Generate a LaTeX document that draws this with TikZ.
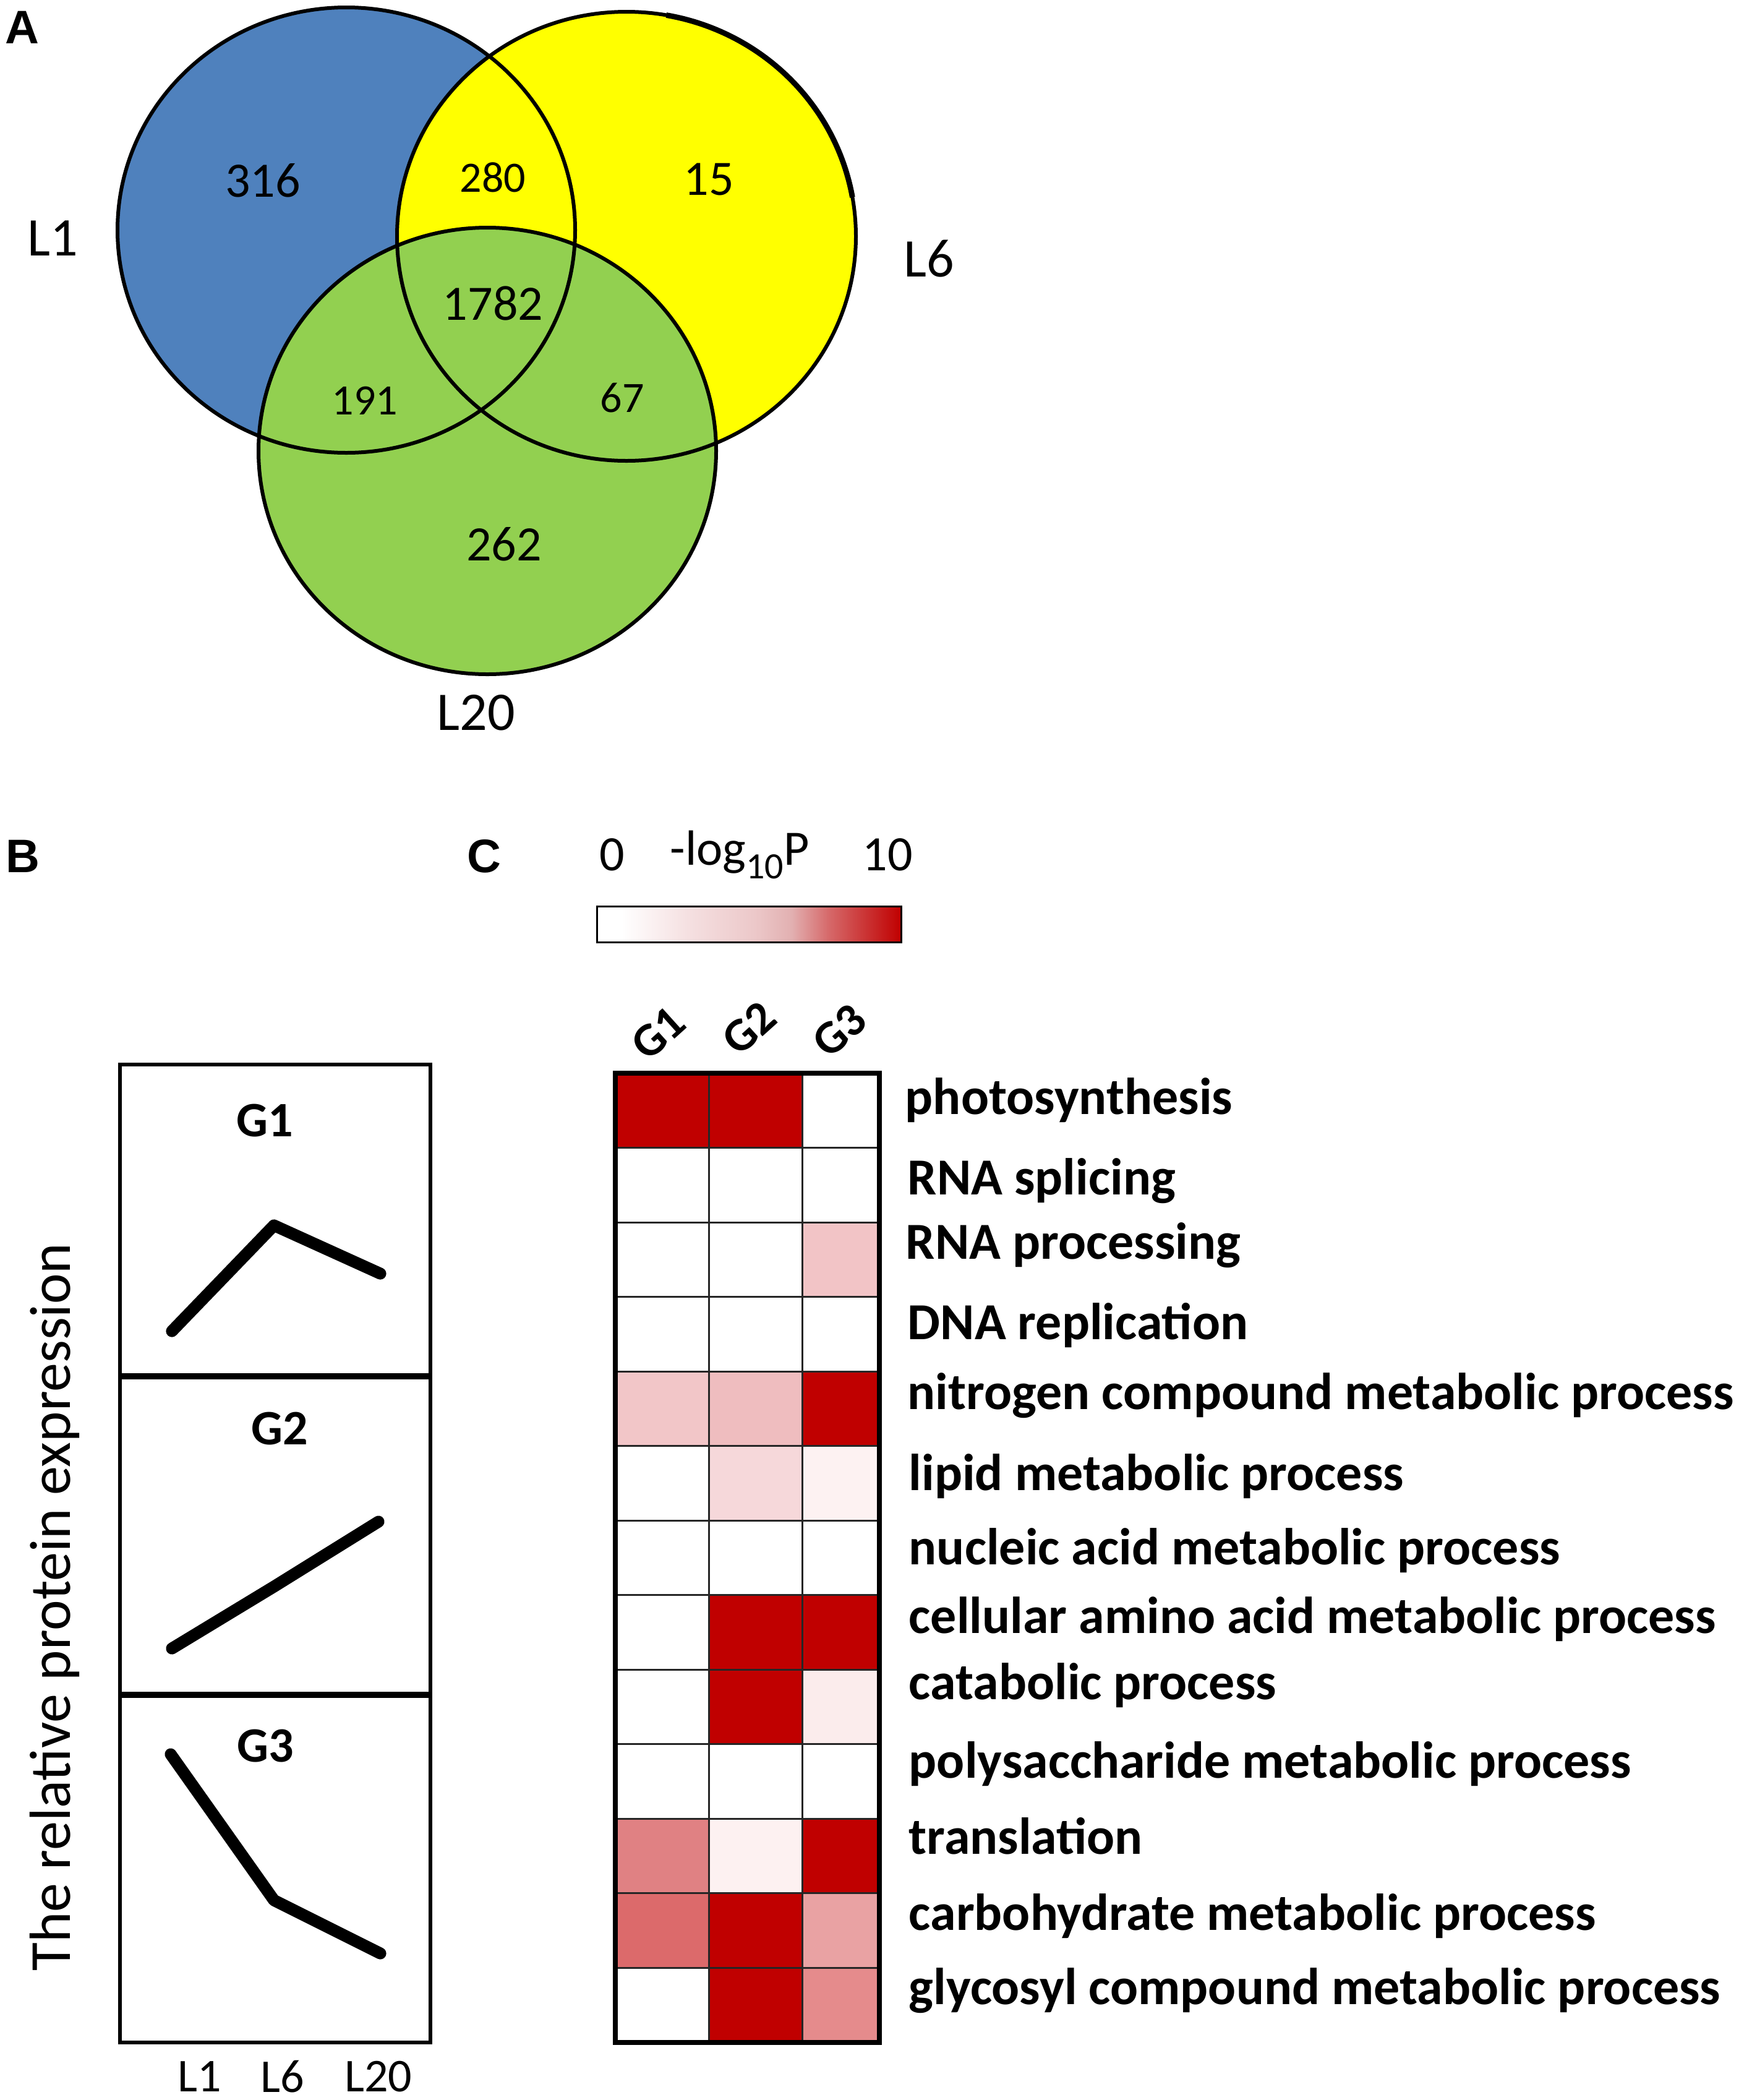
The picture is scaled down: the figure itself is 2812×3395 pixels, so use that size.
\documentclass[tikz,border=0pt]{standalone}
\usepackage{fontspec}
\setmainfont{Carlito}
\newfontfamily\panelfont{Liberation Sans}
\definecolor{vblue}{HTML}{4F81BD}
\definecolor{vyellow}{HTML}{FFFF00}
\definecolor{vgreen}{HTML}{92D050}
\definecolor{hr}{HTML}{C00000}
\definecolor{ca}{HTML}{F2C4C6}
\definecolor{na}{HTML}{F2C6C8}
\definecolor{nb}{HTML}{EFBDBF}
\definecolor{lb}{HTML}{F6D8DA}
\definecolor{lc}{HTML}{FDF2F2}
\definecolor{kc}{HTML}{FBECEC}
\definecolor{ta}{HTML}{E08183}
\definecolor{tb}{HTML}{FDF1F1}
\definecolor{ba}{HTML}{DC6A6B}
\definecolor{bc}{HTML}{E9A2A3}
\definecolor{gc}{HTML}{E58B8C}
\definecolor{sa}{HTML}{F5E0E1}
\definecolor{sb}{HTML}{ECC8C9}
\definecolor{sc}{HTML}{E2B0B1}
\definecolor{sd}{HTML}{D66A6B}
\pgfdeclarehorizontalshading{cbar}{100bp}{color(0bp)=(white); color(25bp)=(white); color(29bp)=(white); color(40bp)=(sa); color(51bp)=(sb); color(57bp)=(sc); color(63bp)=(sd); color(75bp)=(hr); color(100bp)=(hr)}
\tikzset{
  panel/.style={font=\panelfont\bfseries\fontsize{19}{22}\selectfont, inner sep=0pt},
  bignum/.style={font=\fontsize{20}{24}\selectfont, inner sep=0pt},
  smallnum/.style={font=\fontsize{17.5}{21}\selectfont, inner sep=0pt},
  setlab/.style={font=\fontsize{22}{26}\selectfont, inner sep=0pt},
  vennline/.style={draw=black, line width=1.5pt},
  glab/.style={font=\bfseries\fontsize{20}{24}\selectfont, inner sep=0pt},
  collab/.style={font=\bfseries\fontsize{19}{23}\selectfont, inner sep=0pt, rotate=42},
  axlab/.style={font=\fontsize{19}{23}\selectfont, inner sep=0pt},
  trend/.style={line width=4.8pt, line cap=round, line join=round},
  rowlab/.style={font=\bfseries\fontsize{21}{25}\selectfont, inner sep=0pt, anchor=base west},
  cbarlab/.style={font=\fontsize{20}{24}\selectfont, inner sep=0pt}
}
\begin{document}
\begin{tikzpicture}[x=0.25pt,y=-0.25pt]
\useasboundingbox (0,0) rectangle (2812,3395);
\fill[white] (0,0) rectangle (2812,3395);

% ---------- Panel A ----------
\node[panel] (pA) at (36,44) {A};
\fill[vblue] (560,372) ellipse [x radius=92.5pt, y radius=90pt];
\fill[vyellow] (1013,382) ellipse [x radius=92.75pt, y radius=90.75pt];
\fill[vgreen] (788,729) ellipse [x radius=92.5pt, y radius=90.25pt];
\draw[vennline] (560,372) ellipse [x radius=92.5pt, y radius=90pt];
\draw[vennline] (1013,382) ellipse [x radius=92.75pt, y radius=90.75pt];
\draw[vennline] (788,729) ellipse [x radius=92.5pt, y radius=90.25pt];
\draw[line width=2.2pt] (1013,382) ++(10:92.75pt and 90.75pt) arc[start angle=10, end angle=80, x radius=92.75pt, y radius=90.75pt];

\node[bignum] (n316) at (425,292) {316};
\node[smallnum] (n280) at (797,287) {280};
\node[bignum] (n15) at (1146,290) {15};
\node[bignum] (n1782) at (797,490) {1782};
\node[smallnum] (n191) at (590,648) {191};
\node[smallnum] (n67) at (1006,643) {67};
\node[bignum] (n262) at (815,880) {262};
\node[setlab] (sL1) at (85,385) {L1};
\node[setlab] (sL6) at (1502,418) {L6};
\node[setlab] (sL20) at (770,1152) {L20};

% ---------- Panel B ----------
\node[panel] (pB) at (37,1384) {B};
\draw[line width=1.5pt] (194,1721) rectangle (696,3302);
\draw[line width=2.5pt] (194,2225) -- (696,2225);
\draw[line width=2.5pt] (194,2740) -- (696,2740);
\node[glab] (bG1) at (428,1812) {G1};
\node[glab] (bG2) at (452,2310) {G2};
\node[glab] (bG3) at (429,2823) {G3};
\draw[trend] (278,2152) -- (443,1981) -- (615,2059);
\draw[trend] (278,2665) -- (443,2565) -- (612,2460);
\draw[trend] (276,2836) -- (443,3072) -- (615,3158);
\node[axlab] (xL1) at (323,3357) {L1};
\node[axlab] (xL6) at (457,3357) {L6};
\node[axlab] (xL20) at (612,3357) {L20};
\node[font=\fontsize{23.5}{28}\selectfont, inner sep=0pt, rotate=90] (ylab) at (88,2598) {The relative protein expression};

% ---------- Panel C ----------
\node[panel] (pC) at (783,1384) {C};
\shade[shading=cbar] (965,1465) rectangle (1457,1523);
\draw[line width=0.75pt] (965,1465) rectangle (1457,1523);
\node[cbarlab] (c0) at (990,1382) {0};
\node[cbarlab] (clog) at (1196,1382) {-log\raisebox{-0.28em}{\fontsize{15}{18}\selectfont 10}P};
\node[cbarlab] (c10) at (1435,1382) {10};

\node[collab] (cG1) at (1064,1670) {G1};
\node[collab] (cG2) at (1211,1662) {G2};
\node[collab] (cG3) at (1357,1666) {G3};

\foreach \i/\a/\b/\c in {1/hr/hr/white, 2/white/white/white, 3/white/white/ca, 4/white/white/white,
  5/na/nb/hr, 6/white/lb/lc, 7/white/white/white, 8/white/hr/hr, 9/white/hr/kc,
  10/white/white/white, 11/ta/tb/hr, 12/ba/hr/bc, 13/white/hr/gc}{
  \pgfmathsetmacro\yt{1735+(\i-1)*120.54}
  \pgfmathsetmacro\yb{1735+\i*120.54}
  \fill[\a] (995,\yt) rectangle (1146,\yb);
  \fill[\b] (1146,\yt) rectangle (1297,\yb);
  \fill[\c] (1297,\yt) rectangle (1422,\yb);
}
\foreach \i in {1,...,12}{
  \pgfmathsetmacro\yy{1735+\i*120.54}
  \draw[line width=0.75pt, black!85] (995,\yy) -- (1422,\yy);
}
\draw[line width=0.75pt, black!85] (1146,1735) -- (1146,3302);
\draw[line width=0.75pt, black!85] (1297,1735) -- (1297,3302);
\draw[line width=1.9pt] (995,1735) rectangle (1422,3302);

\node[rowlab] (r1) at (1463,1801) {photosynthesis};
\node[rowlab] (r2) at (1467,1931) {RNA splicing};
\node[rowlab] (r3) at (1464,2035) {RNA processing};
\node[rowlab] (r4) at (1467,2165) {DNA replication};
\node[rowlab] (r5) at (1467,2278) {nitrogen compound metabolic process};
\node[rowlab] (r6) at (1469,2409) {lipid metabolic process};
\node[rowlab] (r7) at (1469,2529) {nucleic acid metabolic process};
\node[rowlab] (r8) at (1469,2640) {cellular amino acid metabolic process};
\node[rowlab] (r9) at (1469,2747) {catabolic process};
\node[rowlab] (r10) at (1469,2874) {polysaccharide metabolic process};
\node[rowlab] (r11) at (1469,2997) {translation};
\node[rowlab] (r12) at (1469,3120) {carbohydrate metabolic process};
\node[rowlab] (r13) at (1469,3240) {glycosyl compound metabolic process};
\end{tikzpicture}
\end{document}
